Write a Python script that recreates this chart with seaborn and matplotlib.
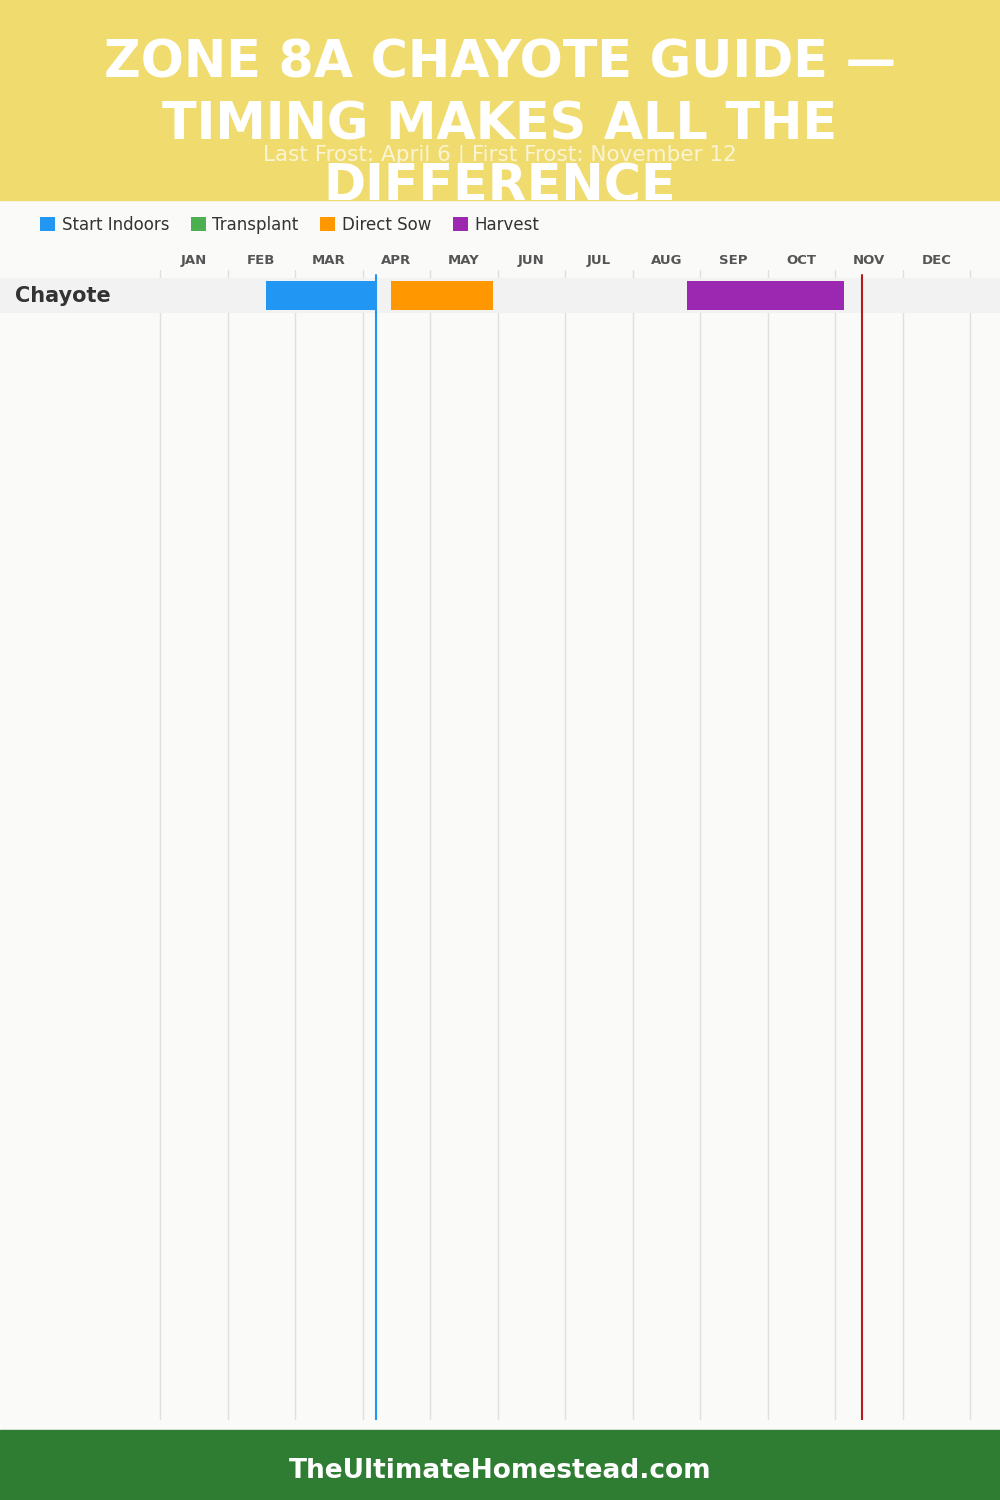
import matplotlib
matplotlib.use("Agg")
import matplotlib.pyplot as plt
from matplotlib.patches import Rectangle, Patch
import seaborn as sns

# Chart data (months as fractional positions, Jan = 0)
crops = ["Chayote"]
months = ["JAN", "FEB", "MAR", "APR", "MAY", "JUN", "JUL", "AUG", "SEP", "OCT", "NOV", "DEC"]
phases = ["Start Indoors", "Transplant", "Direct Sow", "Harvest"]
phase_colors = ["#2196F3", "#4CAF50", "#FF9800", "#9C27B0"]
start_indoors = [(1.57, 3.20)]
transplant = [None]
direct_sow = [(3.42, 4.93)]
harvest = [(7.81, 10.13)]
last_frost = 3.2    # April 6
first_frost = 10.4  # November 12

sns.set_theme(style="white")
plt.rcParams["font.family"] = ["DejaVu Sans"]

bg = "#FAFAF9"
fig = plt.figure(figsize=(10, 15), dpi=100, facecolor=bg)

# header and footer bands
header = Rectangle((0, 1 - 200 / 1500), 1, 200 / 1500, transform=fig.transFigure,
                   color="#F0DB6E", zorder=0)
fig.patches.append(header)
fig.patches.append(Rectangle((0, 0), 1, 70 / 1500, transform=fig.transFigure,
                             color="#2E7D32", zorder=0))

title_lines = ["ZONE 8A CHAYOTE GUIDE —", "TIMING MAKES ALL THE", "DIFFERENCE"]
for i, line in enumerate(title_lines):
    t = fig.text(0.5, 1 - (63 + 62 * i) / 1500, line, ha="center", va="center",
                 fontsize=36.5, fontweight="heavy", color="white", zorder=3)
    t.set_clip_path(header)
fig.text(0.5, 1 - 155 / 1500, "Last Frost: April 6 | First Frost: November 12",
         ha="center", va="center", fontsize=15.5, color="white", alpha=0.7, zorder=4)
fig.text(0.5, 29 / 1500, "TheUltimateHomestead.com", ha="center", va="center",
         fontsize=19, fontweight="bold", color="white")

# main axes, full width
ax = fig.add_axes([0, 80 / 1500, 1, 1150 / 1500])
ax.set_facecolor(bg)
px = 67.5
ax.set_xlim(-160 / px, 12 + 30 / px)
row_h = 35
ax.set_ylim((1150 - 25.5) / row_h, -25.5 / row_h)

for m in range(13):
    ax.axvline(m, color="#E0E0E0", lw=1, zorder=0)

series = [start_indoors, transplant, direct_sow, harvest]
for r, crop in enumerate(crops):
    ax.axhspan(r - 0.5, r + 0.5, color="#F2F2F2", zorder=1, lw=0)
    for spans, col in zip(series, phase_colors):
        span = spans[r]
        if span is None:
            continue
        ax.barh(r, span[1] - span[0], left=span[0], height=0.83, color=col,
                zorder=2, lw=0)
    ax.text(-160 / px + 15 / px, r, crop, ha="left", va="center", fontsize=15,
            fontweight="bold", color="#333333", zorder=3)

ax.axvline(last_frost, color="#2196F3", lw=1.5, zorder=3, ymax=1 - 5 / 1150)
ax.axvline(first_frost, color="#B71C1C", lw=1.5, zorder=3, ymax=1 - 5 / 1150)

ax.xaxis.tick_top()
ax.set_xticks([m + 0.5 for m in range(12)])
ax.set_xticklabels(months, fontsize=9.5, fontweight="bold", color="#555555")
ax.tick_params(axis="x", length=0, pad=2.5)
ax.set_yticks([])
for s in ax.spines.values():
    s.set_visible(False)

handles = [Patch(facecolor=c, edgecolor="none") for c in phase_colors]
fig.legend(handles, phases, loc="center left", bbox_to_anchor=(0.025, 1 - 225 / 1500),
           ncol=4, frameon=False, fontsize=12, handlelength=0.9, handleheight=0.9,
           handletextpad=0.4, columnspacing=1.3, labelcolor="#333333")

fig.savefig("out.png", dpi=100, facecolor=bg)
